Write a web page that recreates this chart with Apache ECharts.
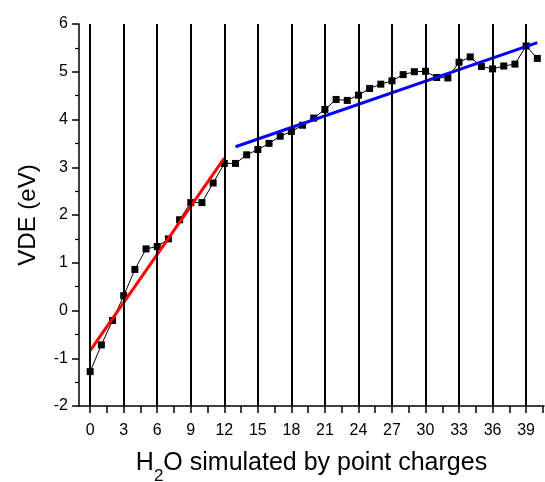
<!DOCTYPE html>
<html>
<head>
<meta charset="utf-8">
<script src="https://cdn.jsdelivr.net/npm/echarts@6/dist/echarts.min.js"></script>
<style>
  html, body { margin: 0; padding: 0; background: #fff; }
  #chart { width: 545px; height: 482px; }
</style>
</head>
<body>
<div id="chart"></div>
<script>
// number of H2O simulated by point charges
const nWater = [0,1,2,3,4,5,6,7,8,9,10,11,12,13,14,15,16,17,18,19,20,
  21,22,23,24,25,26,27,28,29,30,31,32,33,34,35,36,37,38,39,40];
// VDE (eV)
const vde = [-1.28,-0.72,-0.21,0.31,0.86,1.29,1.34,1.50,1.90,2.26,2.26,
  2.67,3.08,3.08,3.26,3.37,3.50,3.65,3.75,3.88,4.03,
  4.21,4.42,4.40,4.51,4.65,4.74,4.81,4.94,5.00,5.01,
  4.88,4.87,5.20,5.31,5.11,5.06,5.12,5.16,5.54,5.28];
// linear fits (end points)
const redFit = [[0, -0.84], [12, 3.19]];
const blueFit = [[13, 3.43], [40, 5.61]];
// tick labels / vertical guide lines
const xLabels = [0,3,6,9,12,15,18,21,24,27,30,33,36,39];
const xTicks = [0,1.5,3,4.5,6,7.5,9,10.5,12,13.5,15,16.5,18,19.5,21,22.5,24,25.5,27,28.5,30,31.5,33,34.5,36,37.5,39,40.5];

const chart = echarts.init(document.getElementById('chart'));

const points = nWater.map((x, i) => [x, vde[i]]);
const font = 'Liberation Sans, Arial, sans-serif';

chart.setOption({
  animation: false,
  grid: { left: 79, top: 24, right: 1, bottom: 76, outerBoundsMode: 'none' },
  xAxis: {
    type: 'value',
    min: -1,
    max: 40.6,
    name: '{a|H}{sub|2}{a|O simulated by point charges}',
    nameLocation: 'middle',
    nameGap: 45,
    nameTextStyle: {
      rich: {
        a: { fontFamily: font, fontSize: 25, color: '#000', lineHeight: 25, verticalAlign: 'top' },
        sub: { fontFamily: font, fontSize: 17, color: '#000', lineHeight: 34, verticalAlign: 'bottom' }
      }
    },
    axisLine: { onZero: false, lineStyle: { color: '#000', width: 1.5 } },
    axisTick: { customValues: xTicks, length: 7, lineStyle: { color: '#000', width: 1.5 } },
    axisLabel: { customValues: xLabels, margin: 17, fontFamily: font, fontSize: 16, color: '#000' },
    splitLine: { show: false }
  },
  yAxis: {
    type: 'value',
    min: -2,
    max: 6,
    interval: 1,
    name: 'VDE (eV)',
    nameLocation: 'middle',
    nameGap: 39,
    nameTextStyle: { fontFamily: font, fontSize: 24, color: '#000' },
    axisLine: { show: true, onZero: false, lineStyle: { color: '#000', width: 1.5 } },
    axisTick: { show: true, length: 7, lineStyle: { color: '#000', width: 1.5 } },
    minorTick: { show: true, splitNumber: 2, length: 4, lineStyle: { color: '#000', width: 1.2 } },
    axisLabel: { margin: 11, fontFamily: font, fontSize: 16, color: '#000' },
    splitLine: { show: false }
  },
  series: [
    {
      type: 'line',
      data: points,
      symbol: 'rect',
      symbolSize: 7,
      itemStyle: { color: '#000' },
      lineStyle: { color: '#000', width: 1 },
      z: 3,
      markLine: {
        silent: true,
        symbol: 'none',
        label: { show: false },
        lineStyle: { color: '#000', width: 2, type: 'solid' },
        data: xLabels.map(v => ({ xAxis: v }))
      }
    },
    {
      type: 'line',
      data: redFit,
      symbol: 'none',
      lineStyle: { color: '#ff0000', width: 3 },
      z: 4
    },
    {
      type: 'line',
      data: blueFit,
      symbol: 'none',
      lineStyle: { color: '#0000ff', width: 3 },
      z: 4
    }
  ]
});
</script>
</body>
</html>
